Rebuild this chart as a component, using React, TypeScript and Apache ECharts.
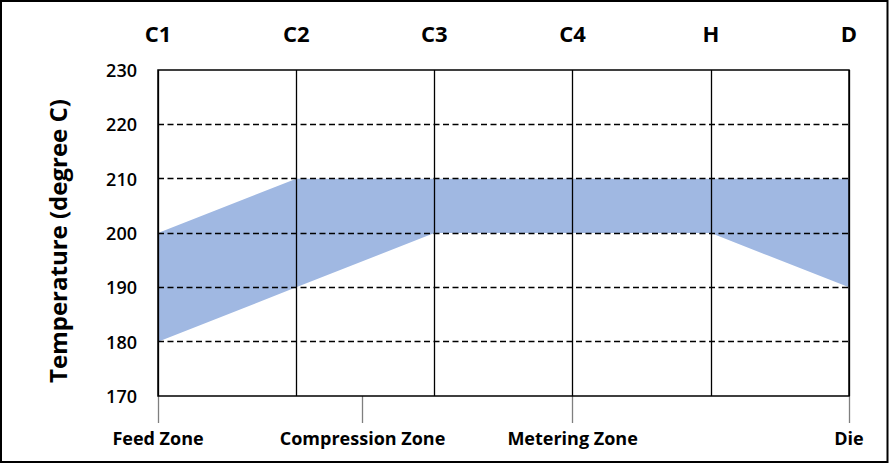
import React, { useEffect, useRef } from "react";
import * as echarts from "echarts";

const zones = ["C1", "C2", "C3", "C4", "H", "D"];
const lowerTemp = [180, 190, 200, 200, 200, 190];
const upperTemp = [200, 210, 210, 210, 210, 210];
const sectionLabels = ["Feed Zone", "Compression Zone", "Metering Zone", "Die"];
const sectionPositions = [0, 1.48, 3, 5];
const yTicks = [170, 180, 190, 200, 210, 220, 230];

const FONT = "'Open Sans', 'DejaVu Sans', sans-serif";

export default function App() {
  const ref = useRef<HTMLDivElement>(null);
  useEffect(() => {
    document.body.style.margin = "0";
    if (!ref.current) return;
    const chart = echarts.init(ref.current, undefined, { renderer: "svg" });
    const bandWidth = upperTemp.map((u, i) => u - lowerTemp[i]);
    chart.setOption({
      animation: false,
      backgroundColor: "#fff",
      grid: {
        left: 158,
        right: 41,
        top: 70,
        bottom: 67,
        show: true,
        borderColor: "#000",
        borderWidth: 1.5,
        z: 4,
      },
      graphic: [
        {
          type: "rect",
          shape: { x: 1, y: 1, width: 886.5, height: 461 },
          style: { fill: "none", stroke: "#000", lineWidth: 2 },
          z: 10,
        },
      ],
      xAxis: [
        {
          type: "category",
          data: zones,
          position: "top",
          boundaryGap: false,
          z: 3,
          axisLine: { show: false },
          axisTick: { show: false },
          axisLabel: {
            margin: 26,
            fontFamily: FONT,
            fontWeight: "bold",
            fontSize: 22,
            color: "#000",
          },
          splitLine: { show: true, lineStyle: { color: "#000", width: 1.3, type: "solid" } },
        },
        {
          type: "value",
          position: "bottom",
          min: 0,
          max: zones.length - 1,
          z: 3,
          axisLine: { show: false },
          splitLine: { show: false },
          axisTick: {
            show: true,
            length: 27,
            customValues: sectionPositions,
            lineStyle: { color: "#7f7f7f", width: 1.3 },
          },
          axisLabel: {
            margin: 33,
            customValues: sectionPositions,
            formatter: (v: number) => {
              const i = sectionPositions.indexOf(v);
              return i >= 0 ? sectionLabels[i] : "";
            },
            fontFamily: FONT,
            fontWeight: "bold",
            fontSize: 18,
            color: "#000",
          },
        },
      ],
      yAxis: {
        type: "value",
        min: yTicks[0],
        max: yTicks[yTicks.length - 1],
        interval: 10,
        z: 3,
        name: "Temperature (degree C)",
        nameLocation: "middle",
        nameGap: 89,
        nameTextStyle: {
          fontFamily: FONT,
          fontWeight: "bold",
          fontSize: 24,
          color: "#000",
          padding: [0, 16, 0, 0],
        },
        axisLine: { show: false },
        axisTick: { show: false },
        axisLabel: {
          margin: 21,
          fontFamily: FONT,
          fontWeight: 600,
          fontSize: 18,
          color: "#000",
        },
        splitLine: {
          show: true,
          showMinLine: false,
          showMaxLine: false,
          lineStyle: { color: "#000", width: 1.3, type: [6, 3.5] },
        },
      },
      series: [
        {
          name: "Lower",
          type: "line",
          data: lowerTemp,
          stack: "band",
          symbol: "none",
          lineStyle: { width: 0 },
          z: 1,
        },
        {
          name: "Range",
          type: "line",
          data: bandWidth,
          stack: "band",
          symbol: "none",
          lineStyle: { width: 0 },
          areaStyle: { color: "#A0B8E2", opacity: 1 },
          z: 1,
        },
      ],
    });
    return () => chart.dispose();
  }, []);
  return <div ref={ref} style={{ width: 890, height: 463 }} />;
}
